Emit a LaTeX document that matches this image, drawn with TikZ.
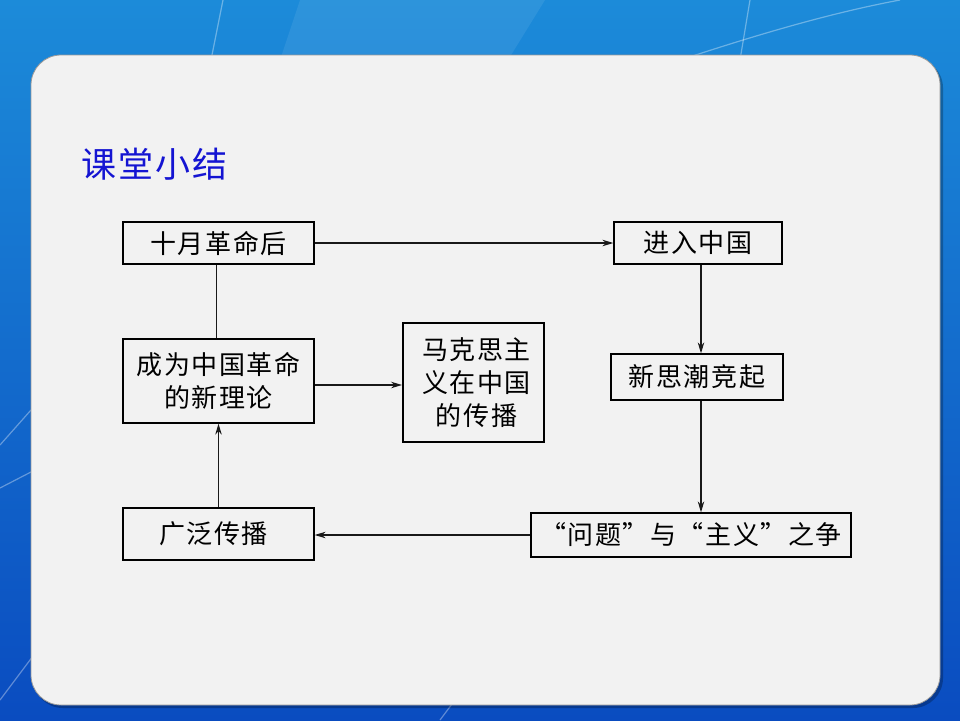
\documentclass[tikz,border=0pt]{standalone}
\usepackage{fontspec}
\newfontfamily\cjk{Noto Sans CJK SC}
\newfontfamily\cjkbox[LetterSpace=6]{Noto Sans CJK SC}
\newfontfamily\cjktitle[LetterSpace=6]{Noto Sans CJK SC}
\usetikzlibrary{arrows.meta,calc}
\definecolor{bgtop}{HTML}{1C8BD9}
\definecolor{bgbot}{HTML}{0A4CC0}
\definecolor{panel}{HTML}{F2F2F2}
\definecolor{titleblue}{HTML}{1414D2}
\tikzset{
  flowbox/.style={draw=black, line width=1.3pt, fill=panel, align=center,
    inner sep=2pt, font=\cjkbox\fontsize{26}{33}\selectfont, text=black},
  conn/.style={draw=black!90, line width=1.1pt},
  arr/.style={conn, -{Stealth[length=11pt,width=6.5pt]}},
  bgline/.style={draw=white, opacity=0.35, line width=1.2pt}
}
\begin{document}
\begin{tikzpicture}[x=1pt,y=-1pt]
\useasboundingbox (0,0) rectangle (960,720);
% background
\shade[top color=bgtop, bottom color=bgbot] (0,0) rectangle (960,720);
\fill[white, opacity=0.08] (300,0) -- (545,0) -- (508,60) -- (280,60) -- cycle;
\draw[bgline] (211,60) -- (223,0);
\draw[bgline] (740,60) -- (750,0);
\draw[bgline] (650,70) .. controls (740,40) and (820,15) .. (900,0);
\draw[bgline] (0,445) -- (31,410);
\draw[bgline] (0,488) -- (31,472);
\draw[bgline] (0,700) -- (45,640);
\draw[bgline] (440,720) -- (455,700);
% panel
\fill[black, opacity=0.25, rounded corners=30pt] (33,58) rectangle (943,708);
\filldraw[fill=panel, draw=black!40, line width=0.8pt, rounded corners=30pt] (31,55) rectangle (940,705);
% title
\node[anchor=west, font=\cjktitle\fontsize{35}{35}\selectfont, text=titleblue] (title) at (78,164) {课堂小结};
% boxes
\node[flowbox, minimum width=191pt, minimum height=42pt] (a) at (218.5,243) {十月革命后};
\node[flowbox, minimum width=168pt, minimum height=42pt] (b) at (698,243) {进入中国};
\node[flowbox, minimum width=172pt, minimum height=46pt] (c) at (697,377) {新思潮竞起};
\node[flowbox, minimum width=320pt, minimum height=44pt] (d) at (691,535) {“问题”与“主义”之争};
\node[flowbox, minimum width=191pt, minimum height=84pt] (e) at (218.5,381) {成为中国革命\\的新理论};
\node[flowbox, line width=2pt, minimum width=141pt, minimum height=119pt] (f) at (473.5,382.5) {\hspace*{6pt}马克思主\\\hspace*{6pt}义在中国\\\hspace*{6pt}的传播};
\node[flowbox, minimum width=191pt, minimum height=52pt] (g) at (218.5,534) {广泛传播\hspace*{10pt}};
% connectors
\draw[arr] (a.east) -- (b.west);
\draw[conn] ([xshift=-2pt]a.south) -- ([xshift=-2pt]e.north);
\draw[arr] ([yshift=-4pt]e.east) -- ([yshift=-4pt]e.east -| f.west);
\draw[arr] (g.north) -- (e.south);
\draw[arr] ([xshift=3pt]b.south) -- ([xshift=3pt]b.south |- c.north);
\draw[arr] ([xshift=4pt]c.south) -- ([xshift=4pt]c.south |- d.north);
\draw[arr] (d.west) -- (d.west -| g.east);
\end{tikzpicture}
\end{document}
